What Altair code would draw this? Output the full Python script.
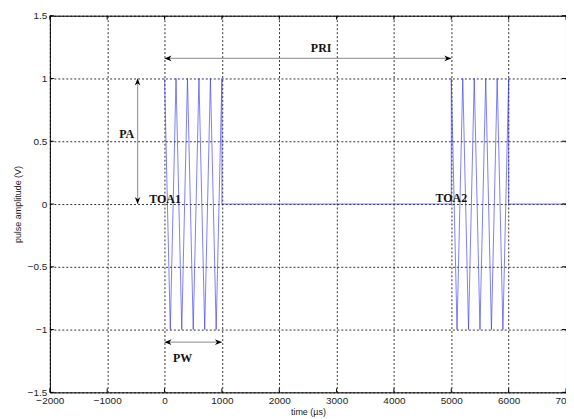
import altair as alt
import pandas as pd

# ---- data ----
x_ticks = [-2000, -1000, 0, 1000, 2000, 3000, 4000, 5000, 6000, 7000]
y_ticks = [-1.5, -1, -0.5, 0, 0.5, 1, 1.5]

signal_t = [0, 100, 200, 300, 400, 500, 600, 700, 800, 900, 1000, 1000,
            5000, 5000, 5100, 5200, 5300, 5400, 5500, 5600, 5700, 5800, 5900, 6000, 6000, 7000]
signal_v = [1, -1, 1, -1, 1, -1, 1, -1, 1, -1, 1, 0,
            0, 1, -1, 1, -1, 1, -1, 1, -1, 1, -1, 1, 0, 0]

arrow_names = ["PRI", "PA", "PW"]
arrow_x1 = [0, -470, 0]
arrow_x2 = [5000, -470, 1000]
arrow_y1 = [1.16, 1.0, -1.1]
arrow_y2 = [1.16, 0.0, -1.1]

label_text = ["PRI", "PA", "TOA1", "TOA2", "PW"]
label_x = [2730, -660, 10, 5000, 313]
label_y = [1.24, 0.556, 0.04, 0.05, -1.23]

W, H = 518, 378

sig = pd.DataFrame({"t": signal_t, "v": signal_v, "i": range(len(signal_t))})
arr = pd.DataFrame({"name": arrow_names, "x1": arrow_x1, "x2": arrow_x2,
                    "y1": arrow_y1, "y2": arrow_y2})

LEFT = "M0,0 L1,-0.4 L0.7,0 L1,0.4 Z"
RIGHT = "M0,0 L-1,-0.4 L-0.7,0 L-1,0.4 Z"
UP = "M0,0 L-0.4,1 L0,0.7 L0.4,1 Z"
DOWN = "M0,0 L-0.4,-1 L0,-0.7 L0.4,-1 Z"
heads = []
for n, a, b, c, d in zip(arrow_names, arrow_x1, arrow_x2, arrow_y1, arrow_y2):
    if c == d:
        heads.append({"x": a, "y": c, "shape": LEFT})
        heads.append({"x": b, "y": d, "shape": RIGHT})
    else:
        heads.append({"x": a, "y": c, "shape": UP})
        heads.append({"x": b, "y": d, "shape": DOWN})
heads = pd.DataFrame(heads)
labels = pd.DataFrame({"text": label_text, "x": label_x, "y": label_y})

xs = alt.Scale(domain=[-2000, 7000], nice=False, zero=False)
ys = alt.Scale(domain=[-1.5, 1.5], nice=False, zero=False)

axis_common = dict(grid=True, gridColor="black", gridDash=[2, 2], gridWidth=0.8,
                   gridOpacity=1, domain=False, ticks=False, labelFlush=False,
                   labelOverlap=False, labelBound=False,
                   labelFont="Liberation Sans", labelFontSize=10, labelColor="#222",
                   titleFont="Liberation Sans", titleFontSize=9,
                   titleFontWeight="normal", titleColor="#222")

X_AX = alt.Axis(values=x_ticks, format="d", title="time (µs)", labelPadding=3,
                titlePadding=2, **axis_common)
Y_AX = alt.Axis(values=y_ticks, format="~g", title="pulse amplitude (V)",
                labelPadding=3, titleX=-27, **axis_common)


def X(f):
    return alt.X(f, scale=xs, axis=X_AX)


def Y(f):
    return alt.Y(f, scale=ys, axis=Y_AX)


signal = alt.Chart(sig).mark_line(color="#3535f5", strokeWidth=0.9, opacity=0.7).encode(
    x=X("t:Q"), y=Y("v:Q"), order="i:Q",
)

xt = pd.DataFrame({"x": x_ticks})
yt = pd.DataFrame({"y": y_ticks})
tick_style = dict(color="black", strokeWidth=1)
ticks = alt.layer(
    alt.Chart(xt).mark_rule(**tick_style).encode(
        x=X("x:Q"), y=alt.value(H), y2=alt.value(H - 4)),
    alt.Chart(xt).mark_rule(**tick_style).encode(
        x=X("x:Q"), y=alt.value(0), y2=alt.value(4)),
    alt.Chart(yt).mark_rule(**tick_style).encode(
        y=Y("y:Q"), x=alt.value(0), x2=alt.value(4)),
    alt.Chart(yt).mark_rule(**tick_style).encode(
        y=Y("y:Q"), x=alt.value(W), x2=alt.value(W - 4)),
)

arrow_lines = alt.Chart(arr).mark_rule(color="#a0a0a0", strokeWidth=1.3).encode(
    x=X("x1:Q"), x2="x2:Q", y=Y("y1:Q"), y2="y2:Q",
)

arrow_heads = alt.Chart(heads).mark_point(filled=True, color="black", opacity=1,
                                          size=196, strokeWidth=0).encode(
    x=X("x:Q"), y=Y("y:Q"), shape=alt.Shape("shape:N", scale=None),
)

texts = alt.Chart(labels).mark_text(font="Liberation Serif", fontWeight="bold",
                                    fontSize=12, color="#111", baseline="middle",
                                    align="center").encode(
    x=X("x:Q"), y=Y("y:Q"), text="text:N",
)

chart = alt.layer(signal, ticks, arrow_lines, arrow_heads, texts).properties(
    width=W, height=H,
    autosize=alt.AutoSizeParams(type="none"),
    padding={"left": 42, "top": 7, "right": 0, "bottom": 26},
    background="white",
).configure_view(stroke="black", strokeWidth=1)

chart.save("out.html", embed_options={"renderer": "svg", "actions": False})
